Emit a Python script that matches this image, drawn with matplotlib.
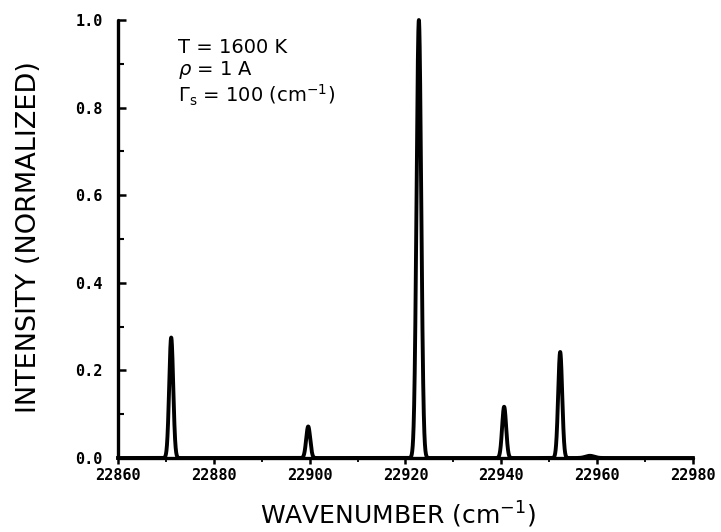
import numpy as np
import matplotlib
matplotlib.use("Agg")
import matplotlib.pyplot as plt
from matplotlib.ticker import MultipleLocator, FixedLocator, FixedFormatter

# Spectral lines: position (cm^-1), normalized intensity, Gaussian width (cm^-1)
line_centers = [22871.1, 22899.7, 22922.8, 22940.6, 22952.3, 22958.5]
line_heights = [0.275, 0.072, 1.0, 0.117, 0.242, 0.005]
line_sigmas = [0.42, 0.42, 0.48, 0.42, 0.42, 0.9]

x_ticks = [22860, 22880, 22900, 22920, 22940, 22960, 22980]
x_tick_labels = ["22860", "22880", "22900", "22920", "22940", "22960", "22980"]
y_ticks = [0.0, 0.2, 0.4, 0.6, 0.8, 1.0]
y_tick_labels = ["0.0", "0.2", "0.4", "0.6", "0.8", "1.0"]

annotation_lines = [r"T = 1600 K", r"$\rho$ = 1 A", r"$\Gamma_{\rm s}$ = 100 (cm$^{-1}$)"]

# Build the spectrum as a sum of Gaussian line profiles
wn = np.linspace(x_ticks[0], x_ticks[-1], 12001)
intensity = np.zeros_like(wn)
for c, h, s in zip(line_centers, line_heights, line_sigmas):
    intensity += h * np.exp(-0.5 * ((wn - c) / s) ** 2)

plt.rcParams["mathtext.fontset"] = "dejavusans"

fig = plt.figure(figsize=(7.21, 5.32), dpi=100)
ax = fig.add_axes([0.1637, 0.1391, 0.961 - 0.1637, 0.9624 - 0.1391])

ax.plot(wn, intensity, color="black", lw=2.8, clip_on=False, solid_joinstyle="round")

ax.set_xlim(x_ticks[0], x_ticks[-1])
ax.set_ylim(0, 1.0)

for side in ("top", "right"):
    ax.spines[side].set_visible(False)
for side in ("left", "bottom"):
    ax.spines[side].set_linewidth(2.4)
    ax.spines[side].set_capstyle("round")

ax.xaxis.set_major_locator(FixedLocator(x_ticks))
ax.xaxis.set_major_formatter(FixedFormatter(x_tick_labels))
ax.xaxis.set_minor_locator(MultipleLocator(10))
ax.yaxis.set_major_locator(FixedLocator(y_ticks))
ax.yaxis.set_major_formatter(FixedFormatter(y_tick_labels))
ax.yaxis.set_minor_locator(MultipleLocator(0.1))

ax.tick_params(axis="y", which="major", direction="in", length=6, width=1.8, pad=11)
ax.tick_params(axis="y", which="minor", direction="in", length=4, width=1.5)
ax.tick_params(axis="x", which="major", direction="out", length=4, width=1.8, pad=3)
ax.tick_params(axis="x", which="minor", direction="out", length=3, width=1.3)
for lab in ax.get_xticklabels() + ax.get_yticklabels():
    lab.set_fontfamily("DejaVu Sans Mono")
    lab.set_fontweight("bold")
    lab.set_fontsize(11)

ax.set_xlabel(r"WAVENUMBER (cm$^{-1}$)", va="center", family="DejaVu Sans", size=18)
ax.xaxis.set_label_coords(0.487, -0.130)
ax.set_ylabel("INTENSITY (NORMALIZED)", va="center", family="DejaVu Sans", size=19.5)
ax.yaxis.set_label_coords(-0.155, 0.505)

for y, txt in zip([0.938, 0.886, 0.829], annotation_lines):
    ax.text(0.104, y, txt, transform=ax.transAxes, ha="left", va="center",
            family="DejaVu Sans", fontsize=14)

fig.savefig("out.png", dpi=100, facecolor="white")
